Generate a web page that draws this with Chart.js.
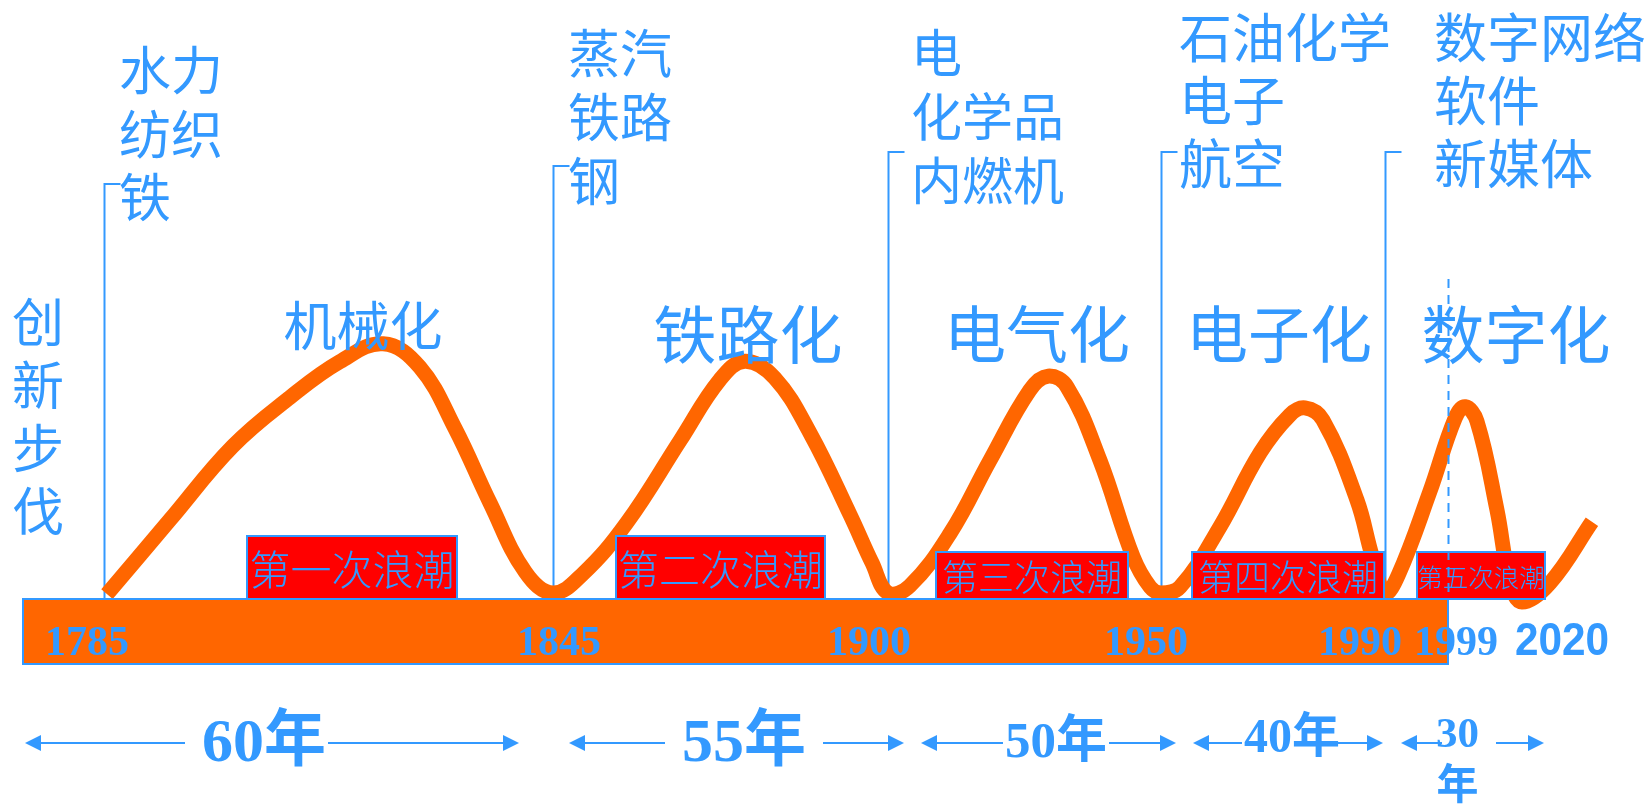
<!DOCTYPE html>
<html>
<head>
<meta charset="utf-8">
<title>创新浪潮</title>
<script src="https://cdn.jsdelivr.net/npm/chart.js@4.4.1/dist/chart.umd.min.js"></script>
<style>
  html, body { margin: 0; padding: 0; background: #ffffff; overflow: hidden; }
  canvas { display: block; }
</style>
</head>
<body>
<canvas id="waves" width="1652" height="805" style="width:1652px;height:805px"></canvas>
<script>
// ---- data -------------------------------------------------------------
const yAxisTitle = '创新步伐';

// innovation pace along the timeline (year, pace)
const waveYears = [
  1785.4, 1793.8, 1802.2, 1809.9, 1816.5, 1822.3, 1827.2, 1831.9, 1836.6, 1841.3, 1845.0,
  1849.9, 1857.1, 1865.9, 1872.4, 1876.5, 1881.4, 1887.2, 1893.8, 1897.4, 1900.0,
  1904.0, 1911.4, 1918.7, 1926.0, 1929.3, 1932.8, 1938.8, 1944.9, 1948.0, 1950.0,
  1953.4, 1960.5, 1967.7, 1973.0, 1975.7, 1978.9, 1985.0, 1987.7, 1990.0,
  1991.9, 1996.4, 2001.0, 2003.8, 2007.1, 2012.7, 2016.4, 2019.7, 2027.6, 2039.3
];
const wavePace = [
  0.8, 13.2, 25.5, 33.7, 39.6, 42.6, 38.7, 28.5, 16.0, 4.5, 1.0,
  4.2, 12.7, 26.5, 36.6, 39.7, 36.9, 27.7, 14.0, 6.0, 1.0,
  2.2, 11.0, 23.2, 34.9, 37.2, 35.4, 23.2, 7.0, 2.0, 1.0,
  2.0, 12.0, 24.4, 30.7, 31.9, 29.9, 16.5, 7.2, 1.0,
  4.0, 17.9, 30.2, 32.1, 29.7, 14.9, 2.8, -0.5, 2.7, 12.9
];

const eraStartYears = [1785, 1845, 1900, 1950, 1990];
const bandEndYear = 1999;
const bandYearLabels = ['1785', '1845', '1900', '1950', '1990', '1999', '2020'];
const waveNames = ['机械化', '铁路化', '电气化', '电子化', '数字化'];
const waveOrdinals = ['第一次浪潮', '第二次浪潮', '第三次浪潮', '第四次浪潮', '第五次浪潮'];
const keyIndustries = [
  ['水力', '纺织', '铁'],
  ['蒸汽', '铁路', '钢'],
  ['电', '化学品', '内燃机'],
  ['石油化学', '电子', '航空'],
  ['数字网络', '软件', '新媒体']
];
const cycleLengths = ['60年', '55年', '50年', '40年', '30年'];

// ---- styling / layout ---------------------------------------------------
const BLUE = '#3399FF';
const ORANGE = '#FF6600';
const RED = '#FF0000';
const CJK = '"Noto Sans CJK SC", "Noto Sans CJK JP", sans-serif';
const SERIF = '"Liberation Serif", "DejaVu Serif"';
const DESIGN_WIDTH = 1652;

// horizontal timeline is schematic: each era gets its own stretch
const timelineStops = [[1785, 104], [1845, 553], [1900, 888], [1950, 1161], [1990, 1385], [1999, 1448], [2020, 1523]];

class TimelineScale extends Chart.LinearScale {
  static id = 'timeline';
  static defaults = Chart.LinearScale.defaults;
  _offsetFor(v) {
    const s = timelineStops;
    let i = 0;
    while (i < s.length - 2 && v > s[i + 1][0]) i++;
    const [y0, p0] = s[i], [y1, p1] = s[i + 1];
    return p0 + (v - y0) * (p1 - p0) / (y1 - y0);
  }
  getPixelForValue(v) {
    return this.left + this._offsetFor(v) * (this.width / DESIGN_WIDTH);
  }
  getValueForPixel(px) {
    const off = (px - this.left) * DESIGN_WIDTH / this.width;
    const s = timelineStops;
    let i = 0;
    while (i < s.length - 2 && off > s[i + 1][1]) i++;
    const [y0, p0] = s[i], [y1, p1] = s[i + 1];
    return y0 + (off - p0) * (y1 - y0) / (p1 - p0);
  }
}
Chart.register(TimelineScale);

const eraTickTops = [184, 166, 152, 152, 152];
const industryLayout = [
  { x: 119, rows: [70, 134, 197], size: 52 },
  { x: 568, rows: [53, 117, 181], size: 52 },
  { x: 911, rows: [53, 117, 181], size: 51 },
  { x: 1179, rows: [38, 101, 164], size: 53 },
  { x: 1434, rows: [38, 101, 164], size: 53 }
];
const titleLayout = [
  { cx: 363, cy: 326, size: 53 },
  { cx: 748, cy: 334, size: 63 },
  { cx: 1037, cy: 334, size: 62 },
  { cx: 1279, cy: 334, size: 62 },
  { cx: 1516, cy: 334, size: 63 }
];
const ordinalBoxes = [
  { x0: 247, x1: 457, y0: 536, size: 41 },
  { x0: 616, x1: 825, y0: 536, size: 41 },
  { x0: 936, x1: 1128, y0: 552, size: 36 },
  { x0: 1192, x1: 1384, y0: 552, size: 36 },
  { x0: 1417, x1: 1545, y0: 552, size: 25.5 }
];
const bandLabelCenters = [87, 559, 869, 1146, 1360, 1456, 1562];
const spanLayout = [
  { l0: 25, l1: 185, r0: 328, r1: 519, tx: 202, base: 761, size: 62 },
  { l0: 569, l1: 665, r0: 823, r1: 904, tx: 682, base: 761, size: 62 },
  { l0: 921, l1: 1003, r0: 1109, r1: 1176, tx: 1005, base: 757, size: 51 },
  { l0: 1193, l1: 1242, r0: 1335, r1: 1383, tx: 1244, base: 752, size: 48 },
  { l0: 1401, l1: 1442, r0: 1496, r1: 1544, tx: 1436, base: 747, size: 43, wrap: true }
];

function cjkText(ctx, text, x, cy, size, align, weight) {
  ctx.font = `${weight || 'normal'} ${size}px ${CJK}`;
  ctx.textAlign = align || 'left';
  ctx.textBaseline = 'alphabetic';
  ctx.fillText(text, x, cy + 0.38 * size);
}

function arrowHead(ctx, tipX, y, dir) {
  ctx.beginPath();
  ctx.moveTo(tipX, y);
  ctx.lineTo(tipX + dir * 16, y - 8);
  ctx.lineTo(tipX + dir * 16, y + 8);
  ctx.closePath();
  ctx.fill();
}

const decorations = {
  id: 'waveDecorations',
  beforeDatasetsDraw(chart) {
    const { ctx, scales: { x, y } } = chart;
    const base = y.getPixelForValue(0);
    ctx.save();
    // era boundary markers
    ctx.strokeStyle = BLUE;
    ctx.lineWidth = 2;
    eraStartYears.forEach((yr, i) => {
      const px = Math.round(x.getPixelForValue(yr)) + 0.5;
      ctx.beginPath();
      ctx.moveTo(px + 16, eraTickTops[i]);
      ctx.lineTo(px, eraTickTops[i]);
      ctx.lineTo(px, base);
      ctx.stroke();
    });
    ctx.restore();
  },
  afterDatasetsDraw(chart) {
    const { ctx, scales: { x, y } } = chart;
    const base = y.getPixelForValue(0);
    ctx.save();

    // timeline band
    const bandRight = x.getPixelForValue(bandEndYear);
    ctx.fillStyle = ORANGE;
    ctx.fillRect(23, base, bandRight - 23, 65);
    ctx.strokeStyle = BLUE;
    ctx.lineWidth = 2;
    ctx.strokeRect(23, base, bandRight - 23, 65);

    // wave ordinal boxes
    waveOrdinals.forEach((label, i) => {
      const b = ordinalBoxes[i];
      ctx.fillStyle = RED;
      ctx.fillRect(b.x0, b.y0, b.x1 - b.x0, base - b.y0);
      ctx.strokeStyle = BLUE;
      ctx.lineWidth = 2;
      ctx.strokeRect(b.x0, b.y0, b.x1 - b.x0, base - b.y0);
      ctx.fillStyle = BLUE;
      cjkText(ctx, label, (b.x0 + b.x1) / 2, (b.y0 + base) / 2 + 2, b.size, 'center', '300');
    });

    // years on the band
    ctx.fillStyle = BLUE;
    ctx.textBaseline = 'alphabetic';
    ctx.textAlign = 'center';
    bandYearLabels.forEach((label, i) => {
      if (i === bandYearLabels.length - 1) {
        ctx.save();
        ctx.translate(bandLabelCenters[i], 655);
        ctx.scale(0.9, 1);
        ctx.font = 'bold 47px "Liberation Sans", Arial, sans-serif';
        ctx.fillText(label, 0, 0);
        ctx.restore();
      } else {
        ctx.font = `bold 42px ${SERIF}, serif`;
        ctx.fillText(label, bandLabelCenters[i], 655);
      }
    });

    // vertical axis title
    ctx.fillStyle = BLUE;
    [...yAxisTitle].forEach((ch, i) => cjkText(ctx, ch, 38, 322 + i * 63, 52, 'center'));

    // key industries of each wave
    keyIndustries.forEach((list, i) => {
      const L = industryLayout[i];
      list.forEach((item, r) => cjkText(ctx, item, L.x, L.rows[r], L.size, 'left'));
    });

    // wave names
    waveNames.forEach((name, i) => {
      const t = titleLayout[i];
      cjkText(ctx, name, t.cx, t.cy, t.size, 'center');
    });

    // cycle lengths with arrows
    ctx.strokeStyle = BLUE;
    ctx.fillStyle = BLUE;
    ctx.lineWidth = 2;
    const ay = 743;
    cycleLengths.forEach((label, i) => {
      const s = spanLayout[i];
      ctx.beginPath();
      ctx.moveTo(s.l0 + 10, ay); ctx.lineTo(s.l1, ay);
      ctx.moveTo(s.r0, ay); ctx.lineTo(s.r1 - 10, ay);
      ctx.stroke();
      arrowHead(ctx, s.l0, ay, 1);
      arrowHead(ctx, s.r1, ay, -1);
      ctx.textAlign = 'left';
      ctx.textBaseline = 'alphabetic';
      ctx.font = `bold ${s.size}px ${SERIF}, ${CJK}`;
      if (s.wrap) {
        const num = label.replace('年', '');
        ctx.fillText(num, s.tx, s.base);
        const w = ctx.measureText(num).width;
        cjkText(ctx, '年', s.tx + w / 2, 783, 42, 'center', 'bold');
      } else {
        ctx.fillText(label, s.tx, s.base);
      }
    });

    // 1999 marker
    const mx = Math.round(x.getPixelForValue(bandEndYear)) + 0.5;
    ctx.strokeStyle = BLUE;
    ctx.lineWidth = 2;
    ctx.setLineDash([9, 7]);
    ctx.beginPath();
    ctx.moveTo(mx, 279);
    ctx.lineTo(mx, base);
    ctx.stroke();
    ctx.setLineDash([]);

    ctx.restore();
  }
};

new Chart(document.getElementById('waves'), {
  type: 'line',
  data: {
    datasets: [{
      data: waveYears.map((yr, i) => ({ x: yr, y: wavePace[i] })),
      borderColor: ORANGE,
      borderWidth: 15,
      borderCapStyle: 'butt',
      borderJoinStyle: 'round',
      pointRadius: 0,
      pointHoverRadius: 0,
      fill: false,
      tension: 0.4,
      clip: false
    }]
  },
  options: {
    responsive: false,
    animation: false,
    devicePixelRatio: 1,
    events: [],
    layout: { padding: { top: 0, left: 0, right: 0, bottom: 206 } },
    scales: {
      x: { type: 'timeline', display: false },
      y: { type: 'linear', min: 0, max: 100, display: false }
    },
    plugins: { legend: { display: false }, tooltip: { enabled: false } }
  },
  plugins: [decorations]
});
</script>
</body>
</html>
